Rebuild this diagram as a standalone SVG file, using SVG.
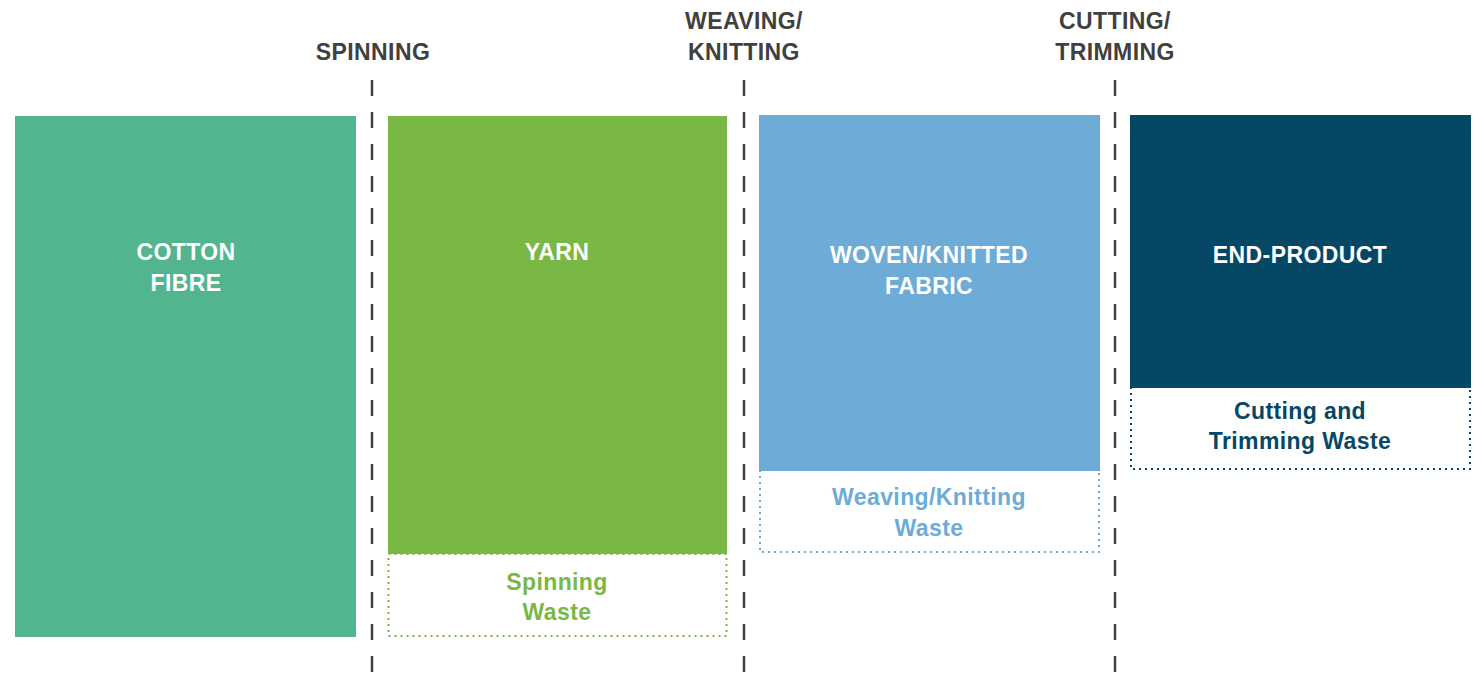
<svg xmlns="http://www.w3.org/2000/svg" width="1475" height="678" viewBox="0 0 1475 678">
<style>
text{font-family:"Liberation Sans",Arial,sans-serif;font-weight:bold;text-anchor:middle;letter-spacing:0.4px}
.stage{font-size:23px;fill:#404040}
.lbl{font-size:23px;fill:#ffffff}
.waste{font-size:23px}
.div{stroke:#404040;stroke-width:2.5;stroke-dasharray:16 16;fill:none}
.wbox{fill:#ffffff;stroke-width:2;stroke-dasharray:2 4}
</style>
<rect width="1475" height="678" fill="#ffffff"/>
<g id="connectors">
<line class="div" x1="372" y1="80" x2="372" y2="678"/>
<line class="div" x1="744" y1="80" x2="744" y2="678"/>
<line class="div" x1="1115" y1="80" x2="1115" y2="678"/>
</g>
<g id="stage-labels">
<text class="stage" x="373" y="60">SPINNING</text>
<text class="stage" x="744" y="29">WEAVING/</text>
<text class="stage" x="744" y="60">KNITTING</text>
<text class="stage" x="1115" y="29">CUTTING/</text>
<text class="stage" x="1115" y="60">TRIMMING</text>
</g>
<g id="cotton-fibre">
<rect x="15" y="116" width="341" height="521" fill="#52B590"/>
<text class="lbl" x="186" y="260">COTTON</text>
<text class="lbl" x="186" y="291">FIBRE</text>
</g>
<g id="yarn">
<rect class="wbox" x="388.5" y="554" width="338" height="82" stroke="#7AB846"/>
<rect x="388" y="116" width="339" height="438" fill="#7AB846"/>
<text class="lbl" x="557" y="260">YARN</text>
<text class="waste" x="557" y="590" fill="#7AB846">Spinning</text>
<text class="waste" x="557" y="620" fill="#7AB846">Waste</text>
</g>
<g id="fabric">
<rect class="wbox" x="760" y="470" width="339" height="82" stroke="#6DACD7"/>
<rect x="759" y="115" width="341" height="356" fill="#6DACD7"/>
<text class="lbl" x="929" y="263">WOVEN/KNITTED</text>
<text class="lbl" x="929" y="294">FABRIC</text>
<text class="waste" x="929" y="505" fill="#6DACD7">Weaving/Knitting</text>
<text class="waste" x="929" y="536" fill="#6DACD7">Waste</text>
</g>
<g id="end-product">
<rect class="wbox" x="1131" y="387" width="339" height="82" stroke="#054866"/>
<rect x="1130" y="115" width="341" height="273" fill="#054866"/>
<text class="lbl" x="1300" y="263">END-PRODUCT</text>
<text class="waste" x="1300" y="419" fill="#054866">Cutting and</text>
<text class="waste" x="1300" y="449" fill="#054866">Trimming Waste</text>
</g>
</svg>
